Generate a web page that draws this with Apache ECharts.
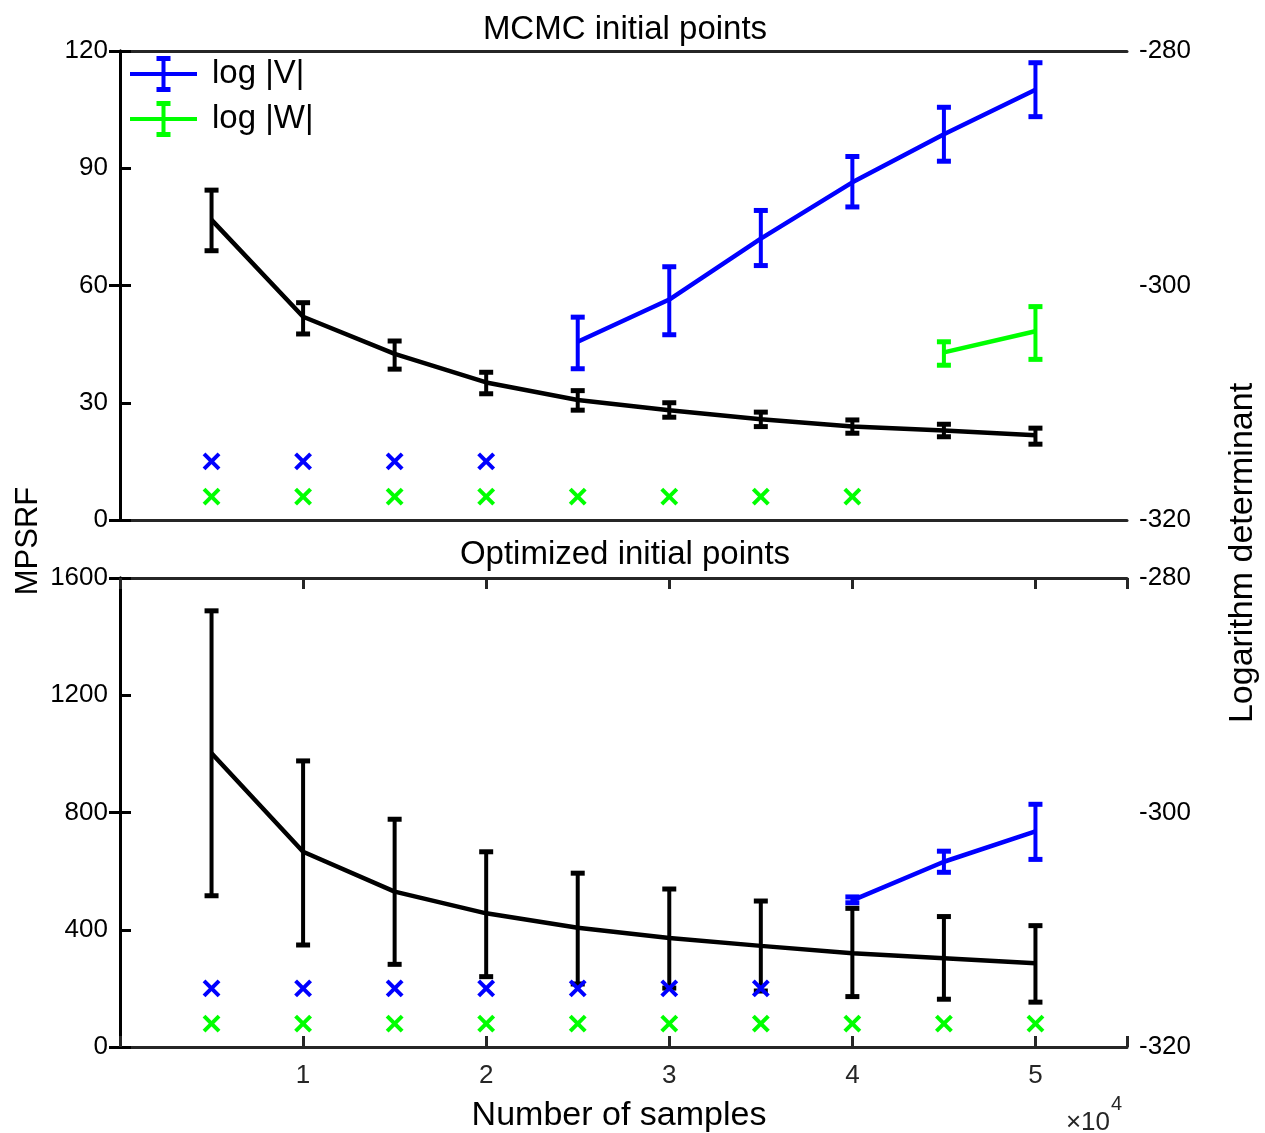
<!DOCTYPE html>
<html>
<head>
<meta charset="utf-8">
<script src="https://cdn.jsdelivr.net/npm/echarts@6/dist/echarts.min.js"></script>
<style>
html,body{margin:0;padding:0;background:#fff;}
#chart{width:1265px;height:1133px;}
</style>
</head>
<body>
<div id="chart"></div>
<script>
// ---------- DATA ----------
const samples = [5000, 10000, 15000, 20000, 25000, 30000, 35000, 40000, 45000, 50000];

// Top panel: MCMC initial points
const mcmcMpsrf   = [76.8, 52.0, 42.5, 35.2, 30.7, 28.1, 25.8, 23.9, 22.9, 21.7];
const mcmcMpsrfLo = [68.9, 47.6, 38.6, 32.3, 28.1, 26.3, 23.9, 22.2, 21.3, 19.4];
const mcmcMpsrfHi = [84.4, 55.6, 45.8, 37.8, 33.1, 30.0, 27.6, 25.6, 24.5, 23.5];

const mcmcVSamples = [25000, 30000, 35000, 40000, 45000, 50000];
const mcmcLogV     = [-304.8, -301.2, -296.0, -291.2, -287.1, -283.3];
const mcmcLogVLo   = [-307.1, -304.2, -298.3, -293.3, -289.4, -285.6];
const mcmcLogVHi   = [-302.7, -298.4, -293.6, -289.0, -284.8, -281.0];

const mcmcWSamples = [45000, 50000];
const mcmcLogW     = [-305.7, -303.9];
const mcmcLogWLo   = [-306.8, -306.3];
const mcmcLogWHi   = [-304.8, -301.8];

// markers where the determinant is undefined
const mcmcVMissX = [5000, 10000, 15000, 20000];
const mcmcVMissY = [-315, -315, -315, -315];
const mcmcWMissX = [5000, 10000, 15000, 20000, 25000, 30000, 35000, 40000];
const mcmcWMissY = [-318, -318, -318, -318, -318, -318, -318, -318];

// Bottom panel: Optimized initial points
const optMpsrf   = [1002, 666, 530, 456, 407, 372, 345, 320, 303, 286];
const optMpsrfLo = [516, 348, 282, 240, 215, 201, 191, 172, 163, 153];
const optMpsrfHi = [1488, 976, 777, 666, 593, 539, 498, 473, 445, 414];

const optVSamples = [40000, 45000, 50000];
const optLogV     = [-307.5, -304.2, -301.6];
const optLogVLo   = [-307.7, -305.1, -304.0];
const optLogVHi   = [-307.2, -303.3, -299.3];

const optVMissX = [5000, 10000, 15000, 20000, 25000, 30000, 35000];
const optVMissY = [-315, -315, -315, -315, -315, -315, -315];
const optWMissX = [5000, 10000, 15000, 20000, 25000, 30000, 35000, 40000, 45000, 50000];
const optWMissY = [-318, -318, -318, -318, -318, -318, -318, -318, -318, -318];

const xTickLabels = ['', '1', '2', '3', '4', '5'];
const mpsrfTopTicks = [0, 120, 30];
const mpsrfBotTicks = [0, 1600, 400];
const detTicks = [-320, -280, 20];

// ---------- STYLE ----------
const FONT = '"Liberation Sans", Arial, Helvetica, sans-serif';
const BLUE = '#0000ff', GREEN = '#00ff00', BLACK = '#000000';

function zip2(a, b) { return a.map((v, i) => [v, b[i]]); }
function zip3(a, b, c) { return a.map((v, i) => [v, b[i], c[i]]); }

function errRender(color) {
  return function (params, api) {
    const x = api.value(0);
    const pLo = api.coord([x, api.value(1)]);
    const pHi = api.coord([x, api.value(2)]);
    const cw = 14, ch = 5;
    return {
      type: 'group',
      children: [
        {type: 'line', shape: {x1: pLo[0], y1: pLo[1], x2: pHi[0], y2: pHi[1]}, style: {stroke: color, lineWidth: 4}},
        {type: 'rect', shape: {x: pLo[0] - cw / 2, y: pLo[1] - ch / 2, width: cw, height: ch}, style: {fill: color}},
        {type: 'rect', shape: {x: pHi[0] - cw / 2, y: pHi[1] - ch / 2, width: cw, height: ch}, style: {fill: color}}
      ]
    };
  };
}
function crossRender(color) {
  return function (params, api) {
    const p = api.coord([api.value(0), api.value(1)]);
    const s = 7.5;
    return {
      type: 'group',
      children: [
        {type: 'line', shape: {x1: p[0] - s, y1: p[1] - s, x2: p[0] + s, y2: p[1] + s}, style: {stroke: color, lineWidth: 4}},
        {type: 'line', shape: {x1: p[0] - s, y1: p[1] + s, x2: p[0] + s, y2: p[1] - s}, style: {stroke: color, lineWidth: 4}}
      ]
    };
  };
}

function lineSeries(name, xi, yi, xs, ys, color) {
  return {name: name, type: 'line', xAxisIndex: xi, yAxisIndex: yi, data: zip2(xs, ys),
    showSymbol: false, symbol: 'none', lineStyle: {color: color, width: 4.5}, itemStyle: {color: color},
    z: 3, animation: false};
}
function errSeries(name, xi, yi, xs, lo, hi, color) {
  return {name: name, type: 'custom', xAxisIndex: xi, yAxisIndex: yi, data: zip3(xs, lo, hi),
    renderItem: errRender(color), encode: {x: 0, y: [1, 2]}, z: 4, animation: false, silent: true};
}
function crossSeries(name, xi, yi, xs, ys, color) {
  return {name: name, type: 'custom', xAxisIndex: xi, yAxisIndex: yi, data: zip2(xs, ys),
    renderItem: crossRender(color), encode: {x: 0, y: 1}, z: 5, animation: false, silent: true};
}

const axLine = {show: true, lineStyle: {color: BLACK, width: 3}};
const axLineX = {show: true, lineStyle: {color: '#262626', width: 3}};
const tickIn = {show: true, inside: true, length: 11, lineStyle: {color: BLACK, width: 3}};
const lbl = {fontSize: 26, color: BLACK, fontFamily: FONT, margin: 12,
  formatter: function (v) { return String(v); }};

function yAx(grid, pos, t) {
  return {type: 'value', gridIndex: grid, position: pos, min: t[0], max: t[1], interval: t[2],
    axisLine: axLine, axisTick: tickIn, axisLabel: lbl, splitLine: {show: false}};
}
function xAx(grid, pos, showTicks, showLabels) {
  return {type: 'value', gridIndex: grid, position: pos, min: 0, max: 55000, interval: 10000,
    axisLine: axLineX,
    axisTick: showTicks ? {show: true, inside: true, length: 11, lineStyle: {color: '#262626', width: 3}} : {show: false},
    axisLabel: showLabels ? {show: true, fontSize: 26, color: '#262626', fontFamily: FONT, margin: 16,
      formatter: function (v) { return xTickLabels[Math.round(v / 10000)] || ''; }} : {show: false},
    splitLine: {show: false}};
}

const legendIcon = 'path://M0,16H67V20H0Z M31.5,0H35.5V36H31.5Z M26.5,0H40.5V5H26.5Z M26.5,31H40.5V36H26.5Z';

const option = {
  backgroundColor: '#ffffff',
  animation: false,
  textStyle: {fontFamily: FONT},
  grid: [
    {left: 120, right: 138, top: 51, height: 469, show: false},
    {left: 120, right: 138, top: 578, height: 469, show: false}
  ],
  xAxis: [xAx(0, 'bottom', false, false), xAx(1, 'bottom', true, true), xAx(0, 'top', false, false), xAx(1, 'top', true, false)],
  yAxis: [yAx(0, 'left', mpsrfTopTicks), yAx(0, 'right', detTicks), yAx(1, 'left', mpsrfBotTicks), yAx(1, 'right', detTicks)],
  legend: {
    data: [{name: 'log |V|', icon: legendIcon, itemStyle: {color: BLUE}}, {name: 'log |W|', icon: legendIcon, itemStyle: {color: GREEN}}],
    orient: 'vertical', left: 130, top: 56, itemWidth: 67, itemHeight: 36, itemGap: 9, padding: 0,
    selectedMode: false,
    textStyle: {fontSize: 33, color: BLACK, fontFamily: FONT, padding: [12, 0, 0, 10]}
  },
  graphic: [
    {type: 'text', x: 625, y: 30, style: {text: 'MCMC initial points', font: '33px ' + FONT, fill: BLACK, textAlign: 'center', textVerticalAlign: 'middle'}},
    {type: 'text', x: 625, y: 555, style: {text: 'Optimized initial points', font: '33px ' + FONT, fill: BLACK, textAlign: 'center', textVerticalAlign: 'middle'}},
    {type: 'text', x: 28, y: 541, rotation: Math.PI / 2, style: {text: 'MPSRF', font: '31px ' + FONT, fill: BLACK, textAlign: 'center', textVerticalAlign: 'middle'}},
    {type: 'text', x: 1243, y: 553, rotation: Math.PI / 2, style: {text: 'Logarithm determinant', font: '34px ' + FONT, fill: BLACK, textAlign: 'center', textVerticalAlign: 'middle'}},
    {type: 'text', x: 619, y: 1116, style: {text: 'Number of samples', font: '34px ' + FONT, fill: BLACK, textAlign: 'center', textVerticalAlign: 'middle'}},
    {type: 'text', x: 1110, y: 1123, style: {text: '×10', font: '26px ' + FONT, fill: '#262626', textAlign: 'right', textVerticalAlign: 'middle'}},
    {type: 'text', x: 1111, y: 1104, style: {text: '4', font: '20px ' + FONT, fill: '#262626', textAlign: 'left', textVerticalAlign: 'middle'}}
  ],
  series: [
    // top panel
    lineSeries('MPSRF top', 0, 0, samples, mcmcMpsrf, BLACK),
    errSeries('MPSRF top err', 0, 0, samples, mcmcMpsrfLo, mcmcMpsrfHi, BLACK),
    lineSeries('log |V|', 0, 1, mcmcVSamples, mcmcLogV, BLUE),
    errSeries('V top err', 0, 1, mcmcVSamples, mcmcLogVLo, mcmcLogVHi, BLUE),
    lineSeries('log |W|', 0, 1, mcmcWSamples, mcmcLogW, GREEN),
    errSeries('W top err', 0, 1, mcmcWSamples, mcmcLogWLo, mcmcLogWHi, GREEN),
    crossSeries('V top miss', 0, 1, mcmcVMissX, mcmcVMissY, BLUE),
    crossSeries('W top miss', 0, 1, mcmcWMissX, mcmcWMissY, GREEN),
    // bottom panel
    crossSeries('V bot miss', 1, 3, optVMissX, optVMissY, BLUE),
    crossSeries('W bot miss', 1, 3, optWMissX, optWMissY, GREEN),
    lineSeries('MPSRF bottom', 1, 2, samples, optMpsrf, BLACK),
    errSeries('MPSRF bottom err', 1, 2, samples, optMpsrfLo, optMpsrfHi, BLACK),
    lineSeries('log |V|', 1, 3, optVSamples, optLogV, BLUE),
    errSeries('V bot err', 1, 3, optVSamples, optLogVLo, optLogVHi, BLUE)
  ]
};

const chart = echarts.init(document.getElementById('chart'), null, {renderer: 'canvas'});
chart.setOption(option);
</script>
</body>
</html>
